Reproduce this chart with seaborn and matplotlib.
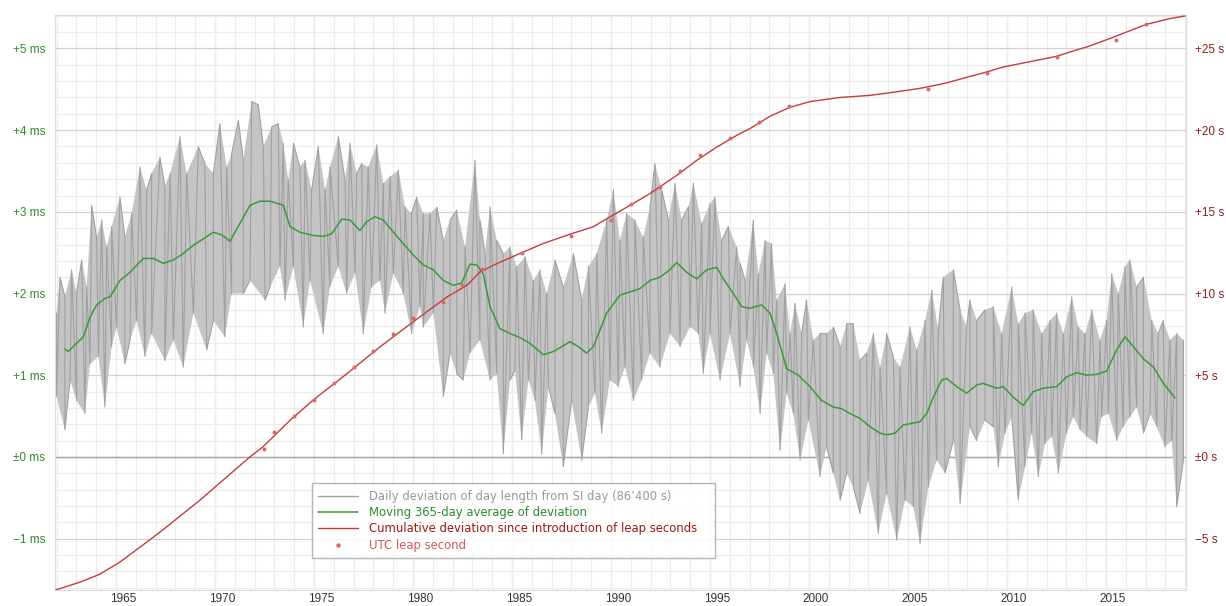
import numpy as np
import pandas as pd
import matplotlib
matplotlib.use("Agg")
import matplotlib.pyplot as plt
import seaborn as sns
from matplotlib.lines import Line2D

# ---------------- data ----------------
# Moving 365-day average of deviation (ms)
avg_year = [1962.42, 1962.59, 1963.01, 1963.35, 1963.69, 1964.02, 1964.44, 1964.70, 1965.20, 1965.71,
            1966.38, 1966.88, 1967.39, 1967.89, 1968.40, 1968.90, 1969.41, 1969.91, 1970.33, 1970.76,
            1971.26, 1971.77, 1972.27, 1972.78, 1973.45, 1973.79, 1974.29, 1974.97, 1975.47, 1975.89,
            1976.40, 1976.82, 1977.32, 1977.66, 1978.08, 1978.50, 1979.01, 1979.51, 1980.02, 1980.52,
            1981.03, 1981.53, 1982.04, 1982.46, 1982.88, 1983.22, 1983.55, 1983.89, 1984.39, 1984.90,
            1985.40, 1985.91, 1986.58, 1987.09, 1987.51, 1987.93, 1988.35, 1988.77, 1989.11, 1989.78,
            1990.45, 1990.96, 1991.46, 1991.97, 1992.47, 1992.98, 1993.32, 1993.82, 1994.33, 1994.83,
            1995.34, 1995.67, 1996.18, 1996.60, 1997.02, 1997.61, 1998.03, 1998.37, 1998.87, 1999.46,
            2000.05, 2000.64, 2001.23, 2001.65, 2002.07, 2002.58, 2003.08, 2003.59, 2003.92, 2004.34,
            2004.76, 2005.61, 2005.94, 2006.28, 2006.70, 2006.95, 2007.46, 2007.96, 2008.47, 2008.80,
            2009.48, 2009.81, 2010.32, 2010.82, 2011.33, 2011.83, 2012.51, 2013.01, 2013.52, 2014.02,
            2014.53, 2015.03, 2015.54, 2015.96, 2016.38, 2016.89, 2017.39, 2017.90, 2018.48]
avg_ms = [1.32, 1.29, 1.39, 1.47, 1.71, 1.86, 1.94, 1.96, 2.16, 2.26,
          2.43, 2.43, 2.37, 2.41, 2.49, 2.59, 2.67, 2.75, 2.72, 2.64,
          2.86, 3.08, 3.13, 3.13, 3.08, 2.82, 2.75, 2.71, 2.70, 2.73,
          2.91, 2.90, 2.77, 2.88, 2.94, 2.90, 2.75, 2.61, 2.47, 2.35,
          2.29, 2.16, 2.10, 2.13, 2.36, 2.35, 2.24, 1.84, 1.57, 1.51,
          1.46, 1.39, 1.25, 1.29, 1.35, 1.41, 1.35, 1.27, 1.35, 1.76,
          1.98, 2.02, 2.06, 2.16, 2.20, 2.29, 2.38, 2.26, 2.18, 2.29,
          2.32, 2.18, 2.00, 1.84, 1.82, 1.86, 1.76, 1.51, 1.08, 1.00,
          0.86, 0.69, 0.61, 0.59, 0.53, 0.47, 0.37, 0.29, 0.27, 0.29,
          0.39, 0.43, 0.53, 0.73, 0.94, 0.96, 0.86, 0.78, 0.88, 0.90,
          0.84, 0.86, 0.73, 0.63, 0.80, 0.84, 0.86, 0.98, 1.03, 1.00,
          1.01, 1.05, 1.31, 1.47, 1.35, 1.20, 1.10, 0.90, 0.72]

# Cumulative deviation since introduction of leap seconds (s)
cum_year = [1961.92, 1963.18, 1964.19, 1965.20, 1966.21, 1967.22, 1968.23, 1969.24, 1970.40, 1971.77,
            1972.42, 1973.79, 1974.95, 1976.67, 1978.33, 1980.00, 1981.72, 1982.73, 1983.38, 1984.24,
            1985.40, 1986.57, 1987.93, 1989.09, 1989.95, 1990.96, 1991.97, 1993.33, 1994.34, 1995.35,
            1996.36, 1997.02, 1998.03, 1999.04, 2000.05, 2001.57, 2003.08, 2004.60, 2005.61, 2006.87,
            2008.13, 2008.97, 2009.81, 2010.66, 2011.50, 2012.51, 2013.18, 2014.02, 2015.20, 2016.04,
            2017.05, 2018.23, 2018.99]
cum_s = [-8.16, -7.67, -7.18, -6.44, -5.53, -4.61, -3.63, -2.65, -1.43, 0.00,
         0.61, 2.24, 3.47, 5.10, 6.73, 8.26, 9.79, 10.51, 11.32, 11.83,
         12.45, 13.06, 13.63, 14.08, 14.69, 15.40, 16.12, 17.24, 18.16, 18.97,
         19.69, 20.10, 20.85, 21.40, 21.75, 22.00, 22.13, 22.38, 22.56, 22.87,
         23.29, 23.56, 23.87, 24.07, 24.28, 24.52, 24.79, 25.09, 25.61, 26.01,
         26.48, 26.83, 26.99]

# UTC leap seconds
leap_year = [1972.50, 1973.00, 1974.00, 1975.00, 1976.00, 1977.00, 1978.00, 1979.00, 1980.00, 1981.50,
             1982.50, 1983.50, 1985.50, 1988.00, 1990.00, 1991.00, 1992.50, 1993.50, 1994.50, 1996.00,
             1997.50, 1999.00, 2006.00, 2009.00, 2012.50, 2015.50, 2017.00]
leap_s = [0.5, 1.5, 2.5, 3.5, 4.5, 5.5, 6.5, 7.5, 8.5, 9.5,
          10.5, 11.5, 12.5, 13.5, 14.5, 15.5, 16.5, 17.5, 18.5, 19.5,
          20.5, 21.5, 22.5, 23.5, 24.5, 25.5, 26.5]

# Daily deviation (ms): upper and lower extremes of the daily values
gray_top_year = [1962.00, 1962.17, 1962.42, 1962.76, 1963.01, 1963.27, 1963.52, 1963.77, 1964.02, 1964.28,
                 1964.53, 1964.78, 1965.20, 1965.45, 1965.79, 1966.21, 1966.55, 1966.80, 1967.22, 1967.47,
                 1967.73, 1968.23, 1968.57, 1969.16, 1969.49, 1969.92, 1970.25, 1970.59, 1970.84, 1971.18,
                 1971.43, 1971.85, 1972.19, 1972.44, 1972.86, 1973.20, 1973.45, 1973.70, 1973.96, 1974.29,
                 1974.55, 1974.88, 1975.22, 1975.56, 1975.81, 1976.23, 1976.57, 1976.82, 1977.16, 1977.41,
                 1977.74, 1978.17, 1978.50, 1978.84, 1979.26, 1979.60, 1979.93, 1980.19, 1980.52, 1980.86,
                 1981.20, 1981.53, 1981.87, 1982.21, 1982.63, 1983.13, 1983.38, 1983.64, 1983.89, 1984.23,
                 1984.56, 1984.90, 1985.24, 1985.66, 1986.08, 1986.41, 1986.75, 1987.17, 1987.59, 1988.10,
                 1988.52, 1988.86, 1989.28, 1989.78, 1990.12, 1990.45, 1990.79, 1991.21, 1991.63, 1991.97,
                 1992.22, 1992.56, 1992.90, 1993.23, 1993.57, 1993.91, 1994.16, 1994.58, 1995.00, 1995.25,
                 1995.59, 1995.93, 1996.35, 1996.52, 1996.77, 1997.19, 1997.44, 1997.78, 1998.11, 1998.37,
                 1998.79, 1999.04, 1999.29, 1999.63, 1999.88, 2000.22, 2000.56, 2000.89, 2001.23, 2001.57,
                 2001.90, 2002.24, 2002.58, 2002.91, 2003.25, 2003.59, 2003.92, 2004.26, 2004.60, 2005.10,
                 2005.44, 2005.86, 2006.20, 2006.53, 2006.78, 2007.29, 2007.63, 2007.96, 2008.13, 2008.47,
                 2008.89, 2009.31, 2009.73, 2010.24, 2010.57, 2010.91, 2011.33, 2011.75, 2012.17, 2012.51,
                 2012.85, 2013.27, 2013.60, 2013.94, 2014.28, 2014.70, 2015.03, 2015.29, 2015.62, 2015.96,
                 2016.21, 2016.55, 2016.89, 2017.31, 2017.64, 2017.89, 2018.23, 2018.57, 2018.91]
gray_top_ms = [1.76, 2.20, 1.96, 2.29, 2.00, 2.41, 2.08, 3.08, 2.69, 2.90,
               2.57, 2.82, 3.18, 2.69, 2.98, 3.55, 3.27, 3.47, 3.67, 3.31,
               3.47, 3.92, 3.47, 3.80, 3.59, 3.47, 4.08, 3.55, 3.71, 4.12,
               3.63, 4.35, 4.31, 3.80, 4.04, 4.08, 3.84, 3.39, 3.84, 3.55,
               3.63, 3.27, 3.80, 3.27, 3.55, 3.92, 3.39, 3.84, 3.47, 3.59,
               3.55, 3.82, 3.35, 3.43, 3.51, 3.06, 2.98, 3.18, 2.98, 2.98,
               3.06, 2.65, 2.90, 3.02, 2.57, 3.63, 2.90, 2.49, 3.06, 2.65,
               2.49, 2.57, 2.33, 2.45, 2.16, 2.29, 2.00, 2.41, 2.08, 2.49,
               1.92, 2.33, 2.49, 2.90, 3.27, 2.65, 2.98, 2.90, 2.69, 3.06,
               3.59, 3.27, 2.90, 3.35, 2.90, 3.06, 3.35, 2.86, 3.10, 3.18,
               2.65, 2.82, 2.57, 2.37, 2.16, 2.90, 2.24, 2.65, 2.61, 1.92,
               2.12, 1.51, 1.88, 1.51, 1.92, 1.43, 1.51, 1.51, 1.59, 1.35,
               1.63, 1.63, 1.18, 1.27, 1.51, 1.10, 1.51, 1.22, 1.10, 1.59,
               1.31, 1.67, 2.04, 1.55, 2.20, 2.29, 1.80, 1.59, 1.92, 1.67,
               1.80, 1.84, 1.51, 2.08, 1.63, 1.76, 1.80, 1.51, 1.67, 1.76,
               1.51, 1.96, 1.59, 1.51, 1.80, 1.43, 1.67, 2.24, 2.00, 2.33,
               2.41, 2.08, 2.20, 1.67, 1.51, 1.67, 1.43, 1.51, 1.43]
gray_bot_year = [1962.00, 1962.42, 1962.68, 1963.01, 1963.43, 1963.69, 1964.11, 1964.44, 1964.78, 1965.03,
                 1965.45, 1965.71, 1966.04, 1966.46, 1966.80, 1967.47, 1967.90, 1968.40, 1968.91, 1969.58,
                 1969.92, 1970.50, 1970.84, 1971.43, 1971.77, 1972.53, 1972.78, 1973.28, 1973.54, 1973.96,
                 1974.46, 1974.80, 1975.47, 1975.81, 1976.23, 1976.65, 1977.07, 1977.49, 1977.91, 1978.33,
                 1978.59, 1979.01, 1979.51, 1979.93, 1980.35, 1980.52, 1981.03, 1981.53, 1981.87, 1982.21,
                 1982.54, 1982.88, 1983.38, 1983.89, 1984.23, 1984.56, 1984.90, 1985.15, 1985.49, 1985.83,
                 1986.16, 1986.50, 1986.84, 1987.17, 1987.59, 1988.01, 1988.52, 1988.86, 1989.19, 1989.53,
                 1989.95, 1990.37, 1990.71, 1991.13, 1991.55, 1991.97, 1992.47, 1992.98, 1993.49, 1993.99,
                 1994.41, 1994.66, 1995.00, 1995.51, 1996.01, 1996.52, 1996.85, 1997.19, 1997.53, 1997.86,
                 1998.20, 1998.54, 1998.87, 1999.21, 1999.55, 1999.97, 2000.56, 2000.89, 2001.23, 2001.57,
                 2001.90, 2002.24, 2002.58, 2002.99, 2003.50, 2003.92, 2004.43, 2004.85, 2005.27, 2005.61,
                 2006.03, 2006.45, 2006.87, 2007.29, 2007.63, 2008.13, 2008.47, 2008.89, 2009.31, 2009.56,
                 2009.90, 2010.24, 2010.57, 2010.91, 2011.25, 2011.58, 2011.92, 2012.26, 2012.59, 2013.01,
                 2013.35, 2013.69, 2014.02, 2014.53, 2014.78, 2015.12, 2015.54, 2015.87, 2016.21, 2016.55,
                 2016.89, 2017.22, 2017.56, 2017.98, 2018.32, 2018.57, 2018.91]
gray_bot_ms = [0.74, 0.33, 0.94, 0.69, 0.53, 1.14, 1.23, 0.61, 1.35, 1.59,
               1.14, 1.43, 1.67, 1.23, 1.51, 1.18, 1.43, 1.10, 1.76, 1.31,
               1.67, 1.47, 2.00, 2.00, 2.16, 1.92, 2.08, 2.33, 1.92, 2.33,
               1.59, 2.16, 1.51, 2.08, 2.33, 2.00, 2.25, 1.51, 2.08, 2.16,
               1.76, 2.25, 2.00, 1.51, 1.84, 1.59, 1.76, 0.74, 1.27, 1.02,
               0.94, 1.27, 1.43, 0.94, 1.02, 0.04, 0.94, 1.06, 0.21, 0.94,
               0.69, 0.04, 0.86, 0.53, -0.12, 0.69, -0.04, 0.61, 0.78, 0.29,
               0.94, 0.86, 1.10, 0.69, 0.94, 1.27, 1.10, 1.51, 1.35, 1.59,
               1.51, 1.02, 1.51, 0.94, 1.51, 0.86, 1.43, 1.10, 0.53, 1.27,
               1.02, 0.08, 0.78, 0.53, -0.04, 0.45, -0.24, 0.12, -0.20, -0.53,
               -0.20, -0.37, -0.69, -0.29, -0.94, -0.45, -1.02, -0.53, -0.61, -1.06,
               -0.37, -0.04, -0.20, 0.20, -0.57, 0.37, 0.20, 0.45, 0.37, -0.12,
               0.29, 0.49, -0.53, -0.12, 0.29, -0.24, 0.16, 0.25, -0.20, 0.29,
               0.49, 0.33, 0.25, 0.16, 0.49, 0.53, 0.20, 0.37, 0.49, 0.61,
               0.29, 0.53, 0.37, 0.12, 0.20, -0.61, -0.04]

# axis texts
x_tick_years = [1965, 1970, 1975, 1980, 1985, 1990, 1995, 2000, 2005, 2010, 2015]
left_ticks = [-1, 0, 1, 2, 3, 4, 5]
left_labels = ["\u22121 ms", "\u00b10 ms", "+1 ms", "+2 ms", "+3 ms", "+4 ms", "+5 ms"]
right_ticks = [-5, 0, 5, 10, 15, 20, 25]
right_labels = ["\u22125 s", "\u00b10 s", "+5 s", "+10 s", "+15 s", "+20 s", "+25 s"]
legend_labels = ["Daily deviation of day length from SI day (86\u2019400 s)",
                 "Moving 365-day average of deviation",
                 "Cumulative deviation since introduction of leap seconds",
                 "UTC leap second"]

# ---------------- style ----------------
GRAY_FILL = "#c4c4c4"
GRAY_LINE = "#a0a0a0"
GREEN = "#3a9a3a"
RED = "#c43c3c"
DOT = "#dd6666"
GREEN_TXT = "#2f8a2f"
RED_TXT = "#8e1c1c"
LABEL_SHIFT = 0.35   # x tick labels sit a little right of the year grid line
TICK_FONT = ['Liberation Sans', 'DejaVu Sans']

sns.set_theme(style="white")
plt.rcParams['font.family'] = ['DejaVu Sans']

fig = plt.figure(figsize=(12.26, 6.06), dpi=100)
ax = fig.add_axes([55 / 1226, 16 / 606, 1131 / 1226, 575 / 606])
XLIM = (1961.92, 2019.04)
YLIM = (-1.63, 5.41)
ax.set_xlim(*XLIM)
ax.set_ylim(*YLIM)

# grid
ax.set_xticks(np.arange(1962, 2020), minor=True)
ax.set_yticks(np.arange(-1.6, 5.41, 0.2), minor=True)
ax.set_xticks([y + LABEL_SHIFT for y in x_tick_years])
ax.set_xticklabels([str(y) for y in x_tick_years], family=TICK_FONT, fontsize=8.5, color='#333333')
ax.set_yticks(left_ticks)
ax.set_yticklabels(left_labels, family=TICK_FONT, fontsize=8.5, color=GREEN_TXT)
ax.grid(which='minor', color='#ececec', lw=0.8)
ax.grid(which='major', axis='y', color='#d2d2d2', lw=0.9)
for y in x_tick_years:
    ax.axvline(y, color='#d2d2d2', lw=0.9, zorder=0.5)
ax.set_axisbelow(True)
ax.axhline(0, color='#a4a4a4', lw=1.0, zorder=1)

# daily deviation band
poly_x = gray_top_year + gray_bot_year[::-1]
poly_y = gray_top_ms + gray_bot_ms[::-1]
ax.fill(poly_x, poly_y, color=GRAY_FILL, lw=0, zorder=2)
zz = pd.concat([pd.DataFrame({'year': gray_top_year, 'ms': gray_top_ms}),
                pd.DataFrame({'year': gray_bot_year, 'ms': gray_bot_ms})]).sort_values('year')
sns.lineplot(data=zz, x='year', y='ms', sort=False, estimator=None, color=GRAY_LINE,
             lw=0.8, ax=ax, zorder=3)

# moving average
sns.lineplot(x=avg_year, y=avg_ms, sort=False, estimator=None, color=GREEN, lw=1.1, ax=ax, zorder=4)

ax.set_xlabel('')
ax.set_ylabel('')
ax.tick_params(axis='x', which='both', length=0, pad=2.5)
ax.tick_params(axis='y', which='both', length=0, pad=7)

# right axis (seconds)
ax2 = ax.twinx()
ax2.set_ylim(YLIM[0] * 5, YLIM[1] * 5)
ax2.set_xlim(*XLIM)
sns.lineplot(x=cum_year, y=cum_s, sort=False, estimator=None, color=RED, lw=1.0, ax=ax2, zorder=5)
sns.scatterplot(x=leap_year, y=leap_s, color=DOT, s=8, linewidth=0, ax=ax2, zorder=6)
ax2.set_yticks(right_ticks)
ax2.set_yticklabels(right_labels, family=TICK_FONT, fontsize=8.5, color=RED_TXT)
ax2.grid(False)
ax2.set_ylabel('')
ax2.tick_params(axis='y', length=0, pad=6.5)

for a in (ax, ax2):
    for sp in a.spines.values():
        sp.set_color('#dcdcdc')
        sp.set_linewidth(0.8)

handles = [Line2D([], [], color=GRAY_LINE, lw=1.0),
           Line2D([], [], color=GREEN, lw=1.1),
           Line2D([], [], color=RED, lw=1.0),
           Line2D([], [], color=DOT, lw=0, marker='o', markersize=2.2)]
leg = ax2.legend(handles, legend_labels, loc='lower left',
                 bbox_to_anchor=((312 - 55) / 1131, (590 - 558) / 575, (715 - 312) / 1131, 0.13),
                 mode='expand', fontsize=8.4, frameon=True, fancybox=False, framealpha=0.85,
                 edgecolor='#a8a8a8', handlelength=3.4, handletextpad=0.9,
                 labelspacing=0.28, borderpad=0.55, borderaxespad=0)
leg.get_frame().set_linewidth(1.0)
for t, c in zip(leg.get_texts(), ['#9a9a9a', GREEN_TXT, '#a01818', '#d05858']):
    t.set_color(c)

fig.savefig("out.png", dpi=100)
